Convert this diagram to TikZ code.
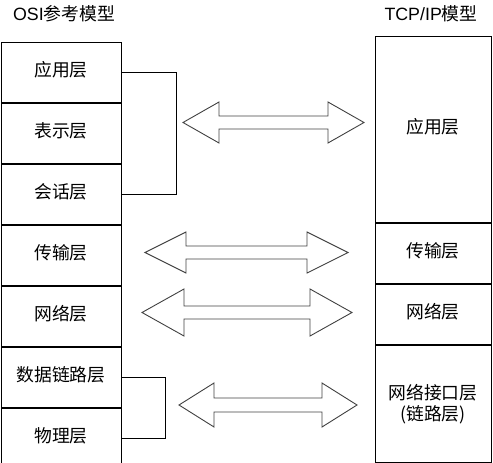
\documentclass[tikz,border=0pt]{standalone}
\usepackage{fontspec}
\setmainfont{Noto Sans CJK SC}
\newfontfamily\latfont{Liberation Sans}
\usetikzlibrary{positioning}

\tikzset{
  layer/.style={draw, line width=1pt, minimum width=120pt, minimum height=60pt, inner sep=0pt,
    font=\fontsize{17.8}{21.5}\selectfont, align=center, text height=0.88em, text depth=0.12em},
  tcplayer/.style={layer, minimum width=116pt},
  heading/.style={font=\fontsize{17.8}{21.5}\selectfont, inner sep=0pt},
  bigarrow/.style={draw=black!75, line width=0.9pt, line join=miter},
  bracket/.style={line width=1pt}
}
% left tip x, right tip x, y, head half height, shaft half height, head length
\newcommand{\dblarrow}[6]{%
  \draw[bigarrow] (#1,#3) -- ++(#6,-#4) -- ++(0,#4-#5) -- (#2-#6,#3-#5) -- ++(0,#5-#4)
    -- (#2,#3) -- ++(-#6,#4) -- ++(0,#5-#4) -- (#1+#6,#3+#5) -- ++(0,#4-#5) -- cycle;
}

\begin{document}
\begin{tikzpicture}[x=1pt, y=-1pt]
  \useasboundingbox (0,0) rectangle (493,463);

  % OSI side
  \node[heading] (osititle) at (64,14) {{\latfont OSI}参考模型};
  \node[layer, anchor=north west] (osiapp) at (0.5,42) {应用层};
  \node[layer, below=0pt of osiapp] (osipre) {表示层};
  \node[layer, below=0pt of osipre] (osises) {会话层};
  \node[layer, below=0pt of osises] (ositra) {传输层};
  \node[layer, below=0pt of ositra] (osinet) {网络层};
  \node[layer, below=0pt of osinet] (osidl) {数据链路层};
  \node[layer, below=0pt of osidl] (osiphy) {物理层};

  \draw[bracket] (osiapp.east) -- ++(55,0) |- (osises.east);
  \draw[bracket] (osidl.east) -- ++(44,0) |- (osiphy.east);

  % TCP/IP side
  \node[heading] (tcptitle) at (431,14) {{\latfont TCP/IP}模型};
  \node[tcplayer, minimum height=186pt, anchor=north west] (tcpapp) at (374.5,36) {应用层};
  \node[tcplayer, below=0pt of tcpapp] (tcptra) {传输层};
  \node[tcplayer, below=0pt of tcptra] (tcpnet) {网络层};
  \node[tcplayer, minimum height=117pt, below=0pt of tcpnet] (tcplink) {};
  \node[heading, align=center] (tcplinktext) at (tcplink.center) {网络接口层\\(链路层)};

  % arrows
  \dblarrow{183}{364}{122.5}{20.5}{6.5}{36}
  \dblarrow{145}{348}{252.5}{20.5}{6.5}{41}
  \dblarrow{142}{352}{312.5}{23.5}{6.5}{42}
  \dblarrow{179}{357}{405}{22}{7}{35}
\end{tikzpicture}
\end{document}
